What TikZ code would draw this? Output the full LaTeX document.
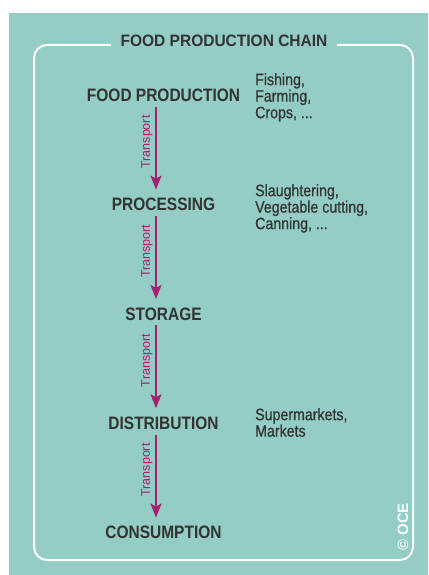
\documentclass[tikz,border=0pt]{standalone}
\usepackage{fontspec}
\usepackage{xcolor}
\usepackage{tikz}
\usetikzlibrary{positioning,arrows.meta}
\setmainfont{Liberation Sans}
\newfontfamily\condfont[FakeStretch=0.86]{Liberation Sans}
\newfontfamily\listfont[FakeStretch=0.86, FakeBold=0.6]{Liberation Sans}
\newfontfamily\titlefont[FakeStretch=0.94]{Liberation Sans}
\definecolor{Lagoon}{HTML}{93CDC5}
\definecolor{Charcoal}{HTML}{333333}
\definecolor{Mulberry}{HTML}{A3216F}

\tikzset{
  stage/.style={font=\condfont\fontsize{18}{18}\selectfont\bfseries, text=Charcoal,
    inner sep=0pt, text height=12.9pt, text depth=0pt},
  examples/.style={font=\listfont\fontsize{16.5}{16.5}\selectfont, text=Charcoal,
    align=left, inner sep=0pt, anchor=north west},
  transport/.style={-{Stealth[length=14pt,width=11pt,inset=3pt]}, line width=2pt,
    draw=Mulberry, shorten >=8pt, shorten <=5pt},
}

\begin{document}
\begin{tikzpicture}[x=1pt, y=-1pt, node distance=96pt]
  % page and panel
  \useasboundingbox (0,0) rectangle (428,575);
  \fill[Lagoon] (9,13) rectangle (428,575);
  \draw[white, line width=2pt, rounded corners=13pt] (34,45) rectangle (413,560);
  \node[fill=Lagoon, inner xsep=10pt, inner ysep=2pt, text=Charcoal,
    font=\titlefont\fontsize{16.5}{16.5}\selectfont\bfseries] (title) at (224,41) {FOOD PRODUCTION CHAIN};

  % the chain itself
  \node[stage] (production) at (163.5,95) {FOOD PRODUCTION};
  \node[stage, below=of production] (processing) {PROCESSING};
  \node[stage, below=of processing] (storage) {STORAGE};
  \node[stage, below=of storage] (distribution) {DISTRIBUTION};
  \node[stage, below=of distribution] (consumption) {CONSUMPTION};

  \foreach \from/\to in {production/processing, processing/storage,
                         storage/distribution, distribution/consumption}
    \draw[transport] ([xshift=-7.5pt]\from.south) -- node[pos=0.42, anchor=south, rotate=90,
      inner sep=2.5pt, text=Mulberry, font=\fontsize{12.5}{12.5}\selectfont] {Transport}
      ([xshift=-7.5pt]\to.north);

  % examples next to the stages
  \node[examples] (prodlist) at (255,73) {Fishing,\\Farming,\\Crops, ...};
  \node[examples] (proclist) at (255,184) {Slaughtering,\\Vegetable cutting,\\Canning, ...};
  \node[examples] (distlist) at (255,408) {Supermarkets,\\Markets};

  \node[rotate=90, text=white, font=\fontsize{15}{15}\selectfont\bfseries] (credit) at (403,527) {© OCE};
\end{tikzpicture}
\end{document}
